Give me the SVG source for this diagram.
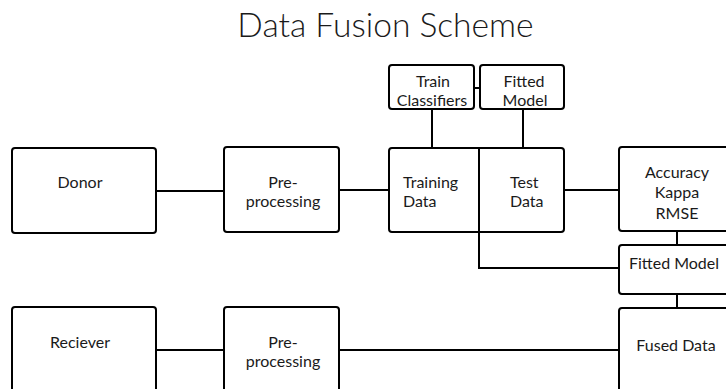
<svg xmlns="http://www.w3.org/2000/svg" width="726" height="389" viewBox="0 0 726 389">
  <style>
    .box { fill: #ffffff; stroke: #000000; stroke-width: 2; }
    .wire { fill: none; stroke: #000000; stroke-width: 2; }
    text { font-family: Lato, "Liberation Sans", Arial, sans-serif; font-size: 16px; fill: #1a1a1a; }
    .c { text-anchor: middle; }
    .title { font-size: 33.6px; font-weight: 300; text-anchor: middle; }
  </style>
  <rect width="726" height="389" fill="#ffffff"/>

  <text class="title" x="385.5" y="37">Data Fusion Scheme</text>

  <g id="donor">
    <rect class="box" x="12" y="148" width="144" height="85" rx="3"/>
    <text class="c" x="80" y="188">Donor</text>
  </g>

  <g id="preprocessing-donor">
    <rect class="box" x="224" y="147" width="115" height="85" rx="3"/>
    <text class="c" x="283" y="188">Pre-</text>
    <text class="c" x="283" y="207">processing</text>
  </g>

  <g id="train-test-data">
    <rect class="box" x="389" y="148" width="175" height="84" rx="3"/>
    <text x="403" y="188">Training</text>
    <text x="403" y="207">Data</text>
    <text x="510" y="188">Test</text>
    <text x="510" y="207">Data</text>
  </g>

  <g id="train-classifiers">
    <rect class="box" x="389" y="65" width="85" height="44" rx="3"/>
    <text class="c" x="433" y="87">Train</text>
    <text class="c" x="432" y="106">Classifiers</text>
  </g>

  <g id="fitted-model-top">
    <rect class="box" x="480" y="65" width="84" height="44" rx="3"/>
    <text class="c" x="524" y="87">Fitted</text>
    <text class="c" x="525" y="106">Model</text>
  </g>

  <g id="accuracy">
    <rect class="box" x="619" y="147" width="117" height="84" rx="3"/>
    <text class="c" x="677" y="177.5">Accuracy</text>
    <text class="c" x="677" y="198">Kappa</text>
    <text class="c" x="677" y="218.5">RMSE</text>
  </g>

  <g id="fitted-model">
    <rect class="box" x="619" y="245" width="117" height="49" rx="3"/>
    <text class="c" x="674" y="268.5">Fitted Model</text>
  </g>

  <g id="fused-data">
    <rect class="box" x="619" y="308" width="117" height="100" rx="3"/>
    <text class="c" x="676" y="350.5">Fused Data</text>
  </g>

  <g id="reciever">
    <rect class="box" x="12" y="307" width="144" height="100" rx="3"/>
    <text class="c" x="80" y="348">Reciever</text>
  </g>

  <g id="preprocessing-reciever">
    <rect class="box" x="224" y="307" width="115" height="100" rx="3"/>
    <text class="c" x="283" y="348">Pre-</text>
    <text class="c" x="283" y="367">processing</text>
  </g>

  <!-- connectors, drawn last so the split line runs through the data box -->
  <g id="connectors">
    <line class="wire" x1="156" y1="191" x2="224" y2="191"/>
    <line class="wire" x1="339" y1="190" x2="389" y2="190"/>
    <line class="wire" x1="432" y1="109" x2="432" y2="148"/>
    <line class="wire" x1="523" y1="109" x2="523" y2="148"/>
    <line class="wire" x1="474" y1="88" x2="480" y2="88"/>
    <line class="wire" x1="564" y1="190" x2="619" y2="190"/>
    <path class="wire" d="M479 148 V268 H619"/>
    <line class="wire" x1="677" y1="231" x2="677" y2="245"/>
    <line class="wire" x1="677" y1="294" x2="677" y2="308"/>
    <line class="wire" x1="156" y1="350" x2="224" y2="350"/>
    <line class="wire" x1="338" y1="350" x2="619" y2="350"/>
  </g>
</svg>
